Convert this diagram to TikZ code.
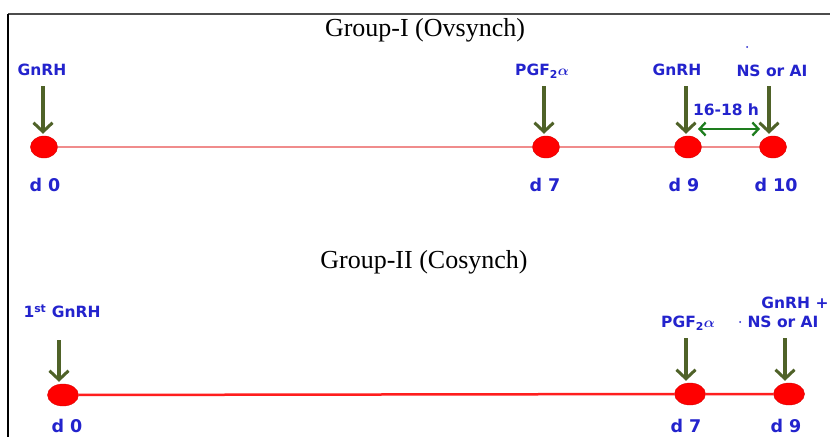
\documentclass[tikz,border=0pt]{standalone}
\usepackage{fontspec}
\setmainfont{Liberation Serif}
\newfontfamily\lblfont{DejaVu Sans}
\usetikzlibrary{arrows.meta,shapes.geometric}
\definecolor{lblue}{RGB}{35,35,205}
\definecolor{olivearr}{RGB}{79,98,40}
\definecolor{dgreen}{RGB}{30,125,30}
\definecolor{pinkline}{RGB}{240,140,140}
\definecolor{redline}{RGB}{255,30,30}
\definecolor{reddot}{RGB}{255,0,0}
\begin{document}
\begin{tikzpicture}[x=1pt,y=-1pt,
  dotA/.style={ellipse,fill=reddot,draw=reddot!85!black,line width=0.4pt,minimum width=27pt,minimum height=22pt,inner sep=0pt},
  dotB/.style={dotA,minimum width=31pt,minimum height=22pt},
  lbl/.style={text=lblue,font=\lblfont\bfseries\fontsize{15.5}{18}\selectfont,inner sep=0pt},
  dlbl/.style={text=lblue,font=\lblfont\bfseries\fontsize{17.5}{20}\selectfont,inner sep=0pt},
  title/.style={font=\fontsize{26}{30}\selectfont,inner sep=0pt},
  inj/.style={draw=olivearr,line width=3.2pt,shorten >=2pt,-{Straight Barb[length=9pt,width=19pt,line width=3pt]}},
  gap/.style={draw=dgreen,line width=2.5pt,{Straight Barb[length=6pt,width=13pt,line width=2.3pt]}-{Straight Barb[length=6pt,width=13pt,line width=2.3pt]}},
  tinydot/.style={circle,fill=lblue,inner sep=0pt,minimum size=2pt}
]
\useasboundingbox (0,0) rectangle (830,437);
\fill[white] (0,0) rectangle (830,437);
% frame
\draw[gray!60!black,line width=1.5pt] (8,14) -- (830,14);
\draw[black,line width=1.5pt] (8,14) -- (8,437);

% ---------- Group I ----------
\node[title] (t1) at (425,30) {Group-I (Ovsynch)};
\node[dotA] (a0) at (44,147) {};
\node[dotA] (a7) at (546,147) {};
\node[dotA] (a9) at (688,147) {};
\node[dotA] (a10) at (773,147) {};
\draw[pinkline,line width=2.5pt] (a0) -- (a7) -- (a9) -- (a10);

\node[dlbl] (la0) at (45,185) {d 0};
\node[dlbl] (la7) at (545,185) {d 7};
\node[dlbl] (la9) at (684,185) {d 9};
\node[dlbl] (la10) at (776,185) {d 10};

\node[lbl] (ga0) at (42,70) {GnRH};
\node[lbl] (ga7) at (542,71) {PGF\textsubscript{2}{\boldmath$\alpha$}};
\node[lbl] (ga9) at (677,70) {GnRH};
\node[lbl] (ga10) at (772,71) {NS or AI};
\node[tinydot] (dotx) at (747,47) {};

\coordinate (sa0) at (43,86);
\coordinate (sa7) at (544,86);
\coordinate (sa9) at (686,86);
\coordinate (sa10) at (769,86);
\draw[inj] (sa0) -- (sa0 |- a0.north);
\draw[inj] (sa7) -- (sa7 |- a7.north);
\draw[inj] (sa9) -- (sa9 |- a9.north);
\draw[inj] (sa10) -- (sa10 |- a10.north);

\node[lbl] (h1) at (726,110) {16-18 h};
\coordinate (hl) at (698,129);
\coordinate (hr) at (760,129);
\draw[gap] (hl) -- (hr);

% ---------- Group II ----------
\node[title] (t2) at (424,262) {Group-II (Cosynch)};
\node[dotB] (b0) at (63,395) {};
\node[dotB] (b7) at (690,394) {};
\node[dotB] (b9) at (789,394) {};
\draw[redline,line width=2.5pt] (b0) -- (b7) -- (b9);

\node[dlbl] (lb0) at (67,426) {d 0};
\node[dlbl] (lb7) at (686,426) {d 7};
\node[dlbl] (lb9) at (786,426) {d 9};

\node[lbl] (gb0) at (62,311) {1\textsuperscript{st} GnRH};
\node[lbl] (gb7) at (688,323) {PGF\textsubscript{2}{\boldmath$\alpha$}};
\node[lbl] (gb9a) at (795,303) {GnRH +};
\node[lbl] (gb9b) at (783,322) {NS or AI};
\node[tinydot] (doty) at (740,322) {};

\coordinate (sb0) at (59,340);
\coordinate (sb7) at (686,338);
\coordinate (sb9) at (785,338);
\draw[inj] (sb0) -- (sb0 |- b0.north);
\draw[inj] (sb7) -- (sb7 |- b7.north);
\draw[inj] (sb9) -- (sb9 |- b9.north);
\end{tikzpicture}
\end{document}
